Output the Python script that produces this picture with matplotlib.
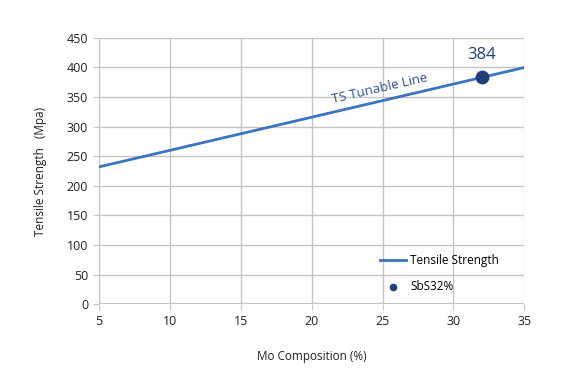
import numpy as np
import matplotlib.pyplot as plt

plt.rcParams['font.family'] = ['Open Sans', 'DejaVu Sans']

# Tensile strength line (Mo composition %, MPa)
mo_comp = [5, 35]
tensile = [232, 400]
# SbS32% sample
sample_x = [32]
sample_y = [384]
xticks = [5, 10, 15, 20, 25, 30, 35]
yticks = [0, 50, 100, 150, 200, 250, 300, 350, 400, 450]

line_col = '#3b74bf'
dot_col = '#1e3f78'
grid_col = '#c4c4c4'

fig = plt.figure(figsize=(5.8, 3.83), dpi=100)
ax = fig.add_axes([0.171, 0.206, 0.733, 0.695])

ax.plot(mo_comp, tensile, color=line_col, lw=2, label='Tensile Strength', zorder=3)
ax.scatter(sample_x, sample_y, s=80, color=dot_col, label='SbS32%', zorder=4)

ax.set_xlim(5, 35)
ax.set_ylim(0, 450)
ax.set_xticks(xticks)
ax.set_yticks(yticks)
ax.grid(True, color=grid_col, lw=1)
ax.set_axisbelow(True)
for s in ax.spines.values():
    s.set_visible(False)
ax.axhline(0, color=grid_col, lw=1.5, zorder=1)
ax.axvline(5, color=grid_col, lw=1.5, zorder=1)
ax.tick_params(length=4, color=grid_col, labelsize=9, labelcolor='#222222', pad=4)

ax.set_xlabel('Mo Composition (%)', fontsize=8.5, labelpad=16, color='#222222')
ax.set_ylabel('Tensile Strength   (Mpa)', fontsize=8.5, labelpad=14, color='#222222')

ax.annotate(str(sample_y[0]), (sample_x[0], sample_y[0]), xytext=(0, 10),
            textcoords='offset points', ha='center', va='bottom',
            fontsize=12, color=dot_col)
ax.text(24.8, 364, 'TS Tunable Line', rotation=13, ha='center', va='center',
        fontsize=9.5, color='#2b4f8f')

ax.legend(loc='lower right', bbox_to_anchor=(0.965, 0.0), frameon=False,
          fontsize=8.5, handlelength=2.2, handletextpad=0.3, labelspacing=1.1,
          scatterpoints=1, markerscale=0.5)

fig.savefig('out.png', dpi=100)
